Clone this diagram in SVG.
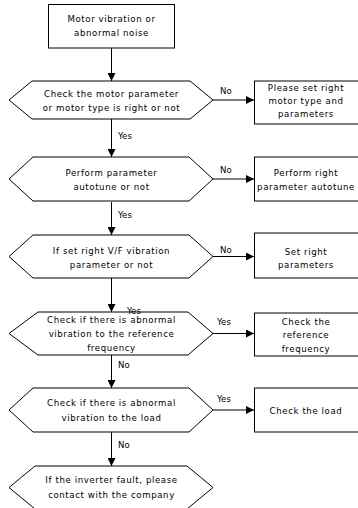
<svg xmlns="http://www.w3.org/2000/svg" width="358" height="508" viewBox="0 0 358 508">
<defs>
<style>
.s{fill:#fff;stroke:#000;stroke-width:1}
.t{font-family:"DejaVu Sans","Liberation Sans",sans-serif;font-size:8.6px;fill:#000;text-anchor:middle;letter-spacing:0.6px}
.l{font-family:"DejaVu Sans","Liberation Sans",sans-serif;font-size:8.6px;fill:#000}
.c{stroke:#000;stroke-width:1;fill:none;marker-end:url(#ah)}
</style>
<marker id="ah" viewBox="0 0 10 10" refX="10" refY="5" markerWidth="8" markerHeight="8" markerUnits="userSpaceOnUse" orient="auto">
<path d="M0,0 L10,5 L0,10 Z" fill="#000"/>
</marker>
</defs>
<rect width="358" height="508" fill="#fff"/>
<g id="connectors">
<line class="c" x1="111.5" y1="48" x2="111.5" y2="81"/>
<line class="c" x1="111.5" y1="119" x2="111.5" y2="157"/>
<line class="c" x1="111.5" y1="202" x2="111.5" y2="235"/>
<line class="c" x1="111.5" y1="278" x2="111.5" y2="312"/>
<line class="c" x1="111.5" y1="355" x2="111.5" y2="388"/>
<line class="c" x1="111.5" y1="432" x2="111.5" y2="466"/>
<line class="c" x1="213" y1="100" x2="254" y2="100"/>
<line class="c" x1="213" y1="179" x2="254" y2="179"/>
<line class="c" x1="213" y1="256.5" x2="254" y2="256.5"/>
<line class="c" x1="213" y1="333.5" x2="254" y2="333.5"/>
<line class="c" x1="213" y1="410" x2="254" y2="410"/>
<text class="l" x="118" y="139">Yes</text>
<text class="l" x="118" y="218">Yes</text>
<text class="l" x="118" y="368">No</text>
<text class="l" x="118" y="448">No</text>
<text class="l" x="220" y="94">No</text>
<text class="l" x="220" y="173">No</text>
<text class="l" x="220" y="253">No</text>
<text class="l" x="217" y="325">Yes</text>
<text class="l" x="217" y="402">Yes</text>
</g>
<g id="start">
<rect class="s" x="48.5" y="4.5" width="126" height="43.5"/>
<text class="t" x="111.5" y="22">Motor vibration or</text>
<text class="t" x="111.5" y="36">abnormal noise</text>
</g>
<g id="d1">
<polygon class="s" points="9,100 32,81 190,81 213,100 190,119 32,119"/>
<text class="t" x="111.5" y="97">Check the motor parameter</text>
<text class="t" x="111.5" y="111">or motor type is right or not</text>
</g>
<g id="r1">
<rect class="s" x="254.5" y="81" width="106" height="43"/>
<text class="t" x="306" y="91">Please set right</text>
<text class="t" x="306" y="104">motor type and</text>
<text class="t" x="306" y="117">parameters</text>
</g>
<g id="d2">
<polygon class="s" points="9,179 33,157 189,157 213,179 189,201 33,201"/>
<text class="t" x="111.5" y="176">Perform parameter</text>
<text class="t" x="111.5" y="190">autotune or not</text>
</g>
<g id="r2">
<rect class="s" x="254.5" y="157" width="106" height="44"/>
<text class="t" x="306" y="176">Perform right</text>
<text class="t" x="306" y="190">parameter autotune</text>
</g>
<g id="d3">
<polygon class="s" points="9,256.5 33,235 189,235 213,256.5 189,278 33,278"/>
<text class="t" x="111.5" y="254">If set right V/F vibration</text>
<text class="t" x="111.5" y="268">parameter or not</text>
</g>
<g id="r3">
<rect class="s" x="254.5" y="233" width="106" height="45"/>
<text class="t" x="306" y="255">Set right</text>
<text class="t" x="306" y="268">parameters</text>
</g>
<g id="d4">
<polygon class="s" points="9,333.5 38,312 188,312 213,333.5 188,355 38,355"/>
<text class="t" x="111.5" y="323">Check if there is abnormal</text>
<text class="t" x="111.5" y="337">vibration to the reference</text>
<text class="t" x="111.5" y="351">frequency</text>
</g>
<g id="r4">
<rect class="s" x="254.5" y="313" width="106" height="43"/>
<text class="t" x="306" y="325">Check the</text>
<text class="t" x="306" y="338">reference</text>
<text class="t" x="306" y="352">frequency</text>
</g>
<g id="d5">
<polygon class="s" points="9,410 33,388 189,388 213,410 189,432 33,432"/>
<text class="t" x="111.5" y="406">Check if there is abnormal</text>
<text class="t" x="111.5" y="421">vibration to the load</text>
</g>
<g id="r5">
<rect class="s" x="254.5" y="388" width="106" height="44"/>
<text class="t" x="306" y="414">Check the load</text>
</g>
<g id="d6">
<polygon class="s" points="9,487.5 35,466 187,466 213,487.5 187,509 35,509"/>
<text class="t" x="111.5" y="483">If the inverter fault, please</text>
<text class="t" x="111.5" y="498">contact with the company</text>
</g>
<g id="label-over">
<text class="l" x="127" y="314">Yes</text>
</g>
</svg>
